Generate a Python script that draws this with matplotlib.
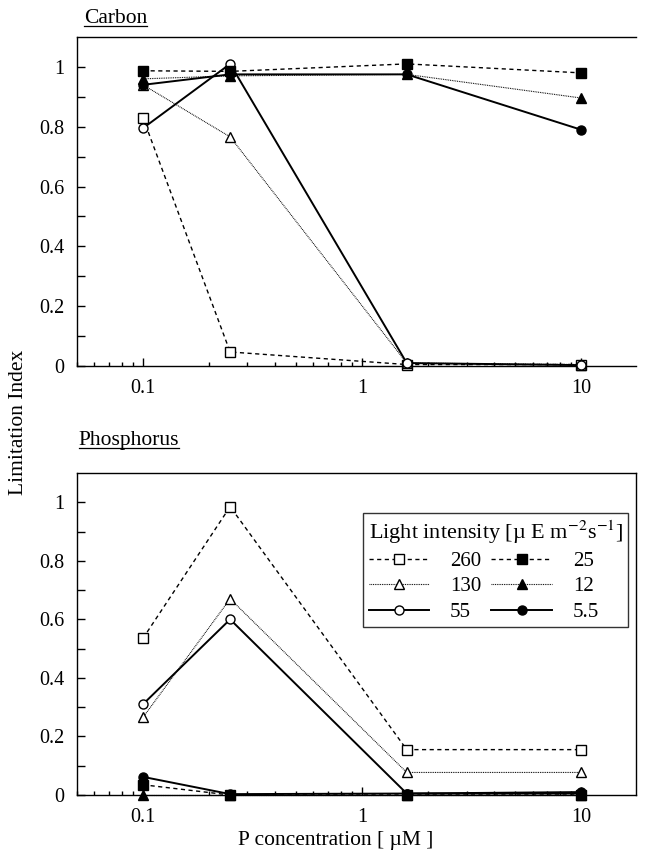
import matplotlib
matplotlib.use("Agg")
import matplotlib.pyplot as plt
from matplotlib.ticker import FixedLocator, NullFormatter, LogLocator
from matplotlib.lines import Line2D

plt.rcParams['font.family'] = ['Liberation Serif', 'DejaVu Serif']
plt.rcParams['mathtext.fontset'] = 'stix'

p_conc = [0.1, 0.25, 1.6, 10]
light_levels = ['260', '130', '55', '25', '12', '5.5']

carbon_260 = [0.83, 0.047, 0.005, 0.005]
carbon_130 = [0.94, 0.766, 0.01, 0.005]
carbon_55 = [0.795, 1.01, 0.01, 0.003]
carbon_25 = [0.987, 0.985, 1.01, 0.98]
carbon_12 = [0.96, 0.97, 0.975, 0.896]
carbon_5_5 = [0.94, 0.975, 0.975, 0.79]

phos_260 = [0.535, 0.985, 0.155, 0.155]
phos_130 = [0.265, 0.67, 0.077, 0.077]
phos_55 = [0.31, 0.60, 0.005, 0.005]
phos_25 = [0.035, 0.0, 0.0, 0.0]
phos_12 = [0.0, 0.0, 0.0, 0.0]
phos_5_5 = [0.062, 0.003, 0.005, 0.01]

styles = {
    '260': dict(ls=(0, (3, 2.5)), lw=1.0, marker='s', mfc='white'),
    '130': dict(ls=(0, (0.8, 0.8)), lw=0.8, marker='^', mfc='white'),
    '55':  dict(ls='-', lw=1.4, marker='o', mfc='white'),
    '25':  dict(ls=(0, (3, 2.5)), lw=1.0, marker='s', mfc='black'),
    '12':  dict(ls=(0, (0.8, 0.8)), lw=0.8, marker='^', mfc='black'),
    '5.5': dict(ls='-', lw=1.4, marker='o', mfc='black'),
}

carbon = dict(zip(light_levels, [carbon_260, carbon_130, carbon_55, carbon_25, carbon_12, carbon_5_5]))
phos = dict(zip(light_levels, [phos_260, phos_130, phos_55, phos_25, phos_12, phos_5_5]))

TICK_FS = 14.5
LABEL_FS = 15.5

fig = plt.figure(figsize=(6.45, 8.68), dpi=100)
ax1 = fig.add_axes([0.1194, 0.5783, 0.8666, 0.3791])
ax2 = fig.add_axes([0.1194, 0.0841, 0.8666, 0.3710])

def draw(ax, data):
    handles = []
    for lvl in light_levels:
        st = styles[lvl]
        h, = ax.plot(p_conc, data[lvl], color='black', linestyle=st['ls'], linewidth=st['lw'],
                     marker=st['marker'], markersize=6.5, markerfacecolor=st['mfc'],
                     markeredgecolor='black', markeredgewidth=1.0, label=lvl, clip_on=False, zorder=3)
        handles.append(h)
    ax.set_xscale('log')
    ax.set_xlim(0.05, 17.8)
    ax.set_ylim(0, 1.1)
    ax.set_xticks([0.1, 1, 10])
    ax.set_xticklabels(['0.1', '1', '10'])
    ax.xaxis.set_minor_locator(LogLocator(base=10, subs=range(2, 10)))
    ax.xaxis.set_minor_formatter(NullFormatter())
    ax.set_yticks([0, 0.2, 0.4, 0.6, 0.8, 1.0])
    ax.set_yticklabels(['0', '0.2', '0.4', '0.6', '0.8', '1'])
    ax.yaxis.set_minor_locator(FixedLocator([0.1, 0.3, 0.5, 0.7, 0.9]))
    ax.tick_params(axis='both', which='both', direction='in', labelsize=TICK_FS, width=1.0)
    ax.tick_params(axis='x', which='major', length=6, pad=9)
    ax.tick_params(axis='x', which='minor', length=3)
    ax.tick_params(axis='y', which='both', length=6, pad=9)
    ax.tick_params(top=False, right=False, which='both')
    for s in ax.spines.values():
        s.set_linewidth(1.0)
    return handles

draw(ax1, carbon)
ax1.spines['right'].set_visible(False)
handles = draw(ax2, phos)

leg = ax2.legend(handles=handles, ncol=2, loc='upper right', bbox_to_anchor=(0.9857, 0.876),
                 borderaxespad=0.0,
                 title='Light intensity [µ E m$^{-2}$s$^{-1}$]', fontsize=15, title_fontsize=16,
                 frameon=True, fancybox=False, edgecolor='black', handlelength=2.9,
                 handletextpad=1.0, columnspacing=0.5, labelspacing=0.28, borderpad=0.25,
                 markerfirst=True, alignment='left')
leg.get_frame().set_linewidth(1.0)
for t in leg.get_texts():
    t.set_ha('right')

fig.canvas.draw()
renderer = fig.canvas.get_renderer()

def underlined(x, y, s):
    t = fig.text(x, y, s, fontsize=LABEL_FS, ha='left', va='baseline')
    bb = t.get_window_extent(renderer).transformed(fig.transFigure.inverted())
    fig.add_artist(Line2D([bb.x0, bb.x1], [y - 0.003, y - 0.003], color='black', lw=0.9,
                          transform=fig.transFigure))

underlined(0.130, 0.9735, 'Carbon')
underlined(0.122, 0.4873, 'Phosphorus')

fig.text(0.029, 0.513, 'Limitation Index', rotation=90, fontsize=LABEL_FS, ha='center', va='center')
fig.text(0.52, 0.0265, 'P concentration [ µM ]', fontsize=LABEL_FS, ha='center', va='baseline')

fig.savefig('out.png', dpi=100)
